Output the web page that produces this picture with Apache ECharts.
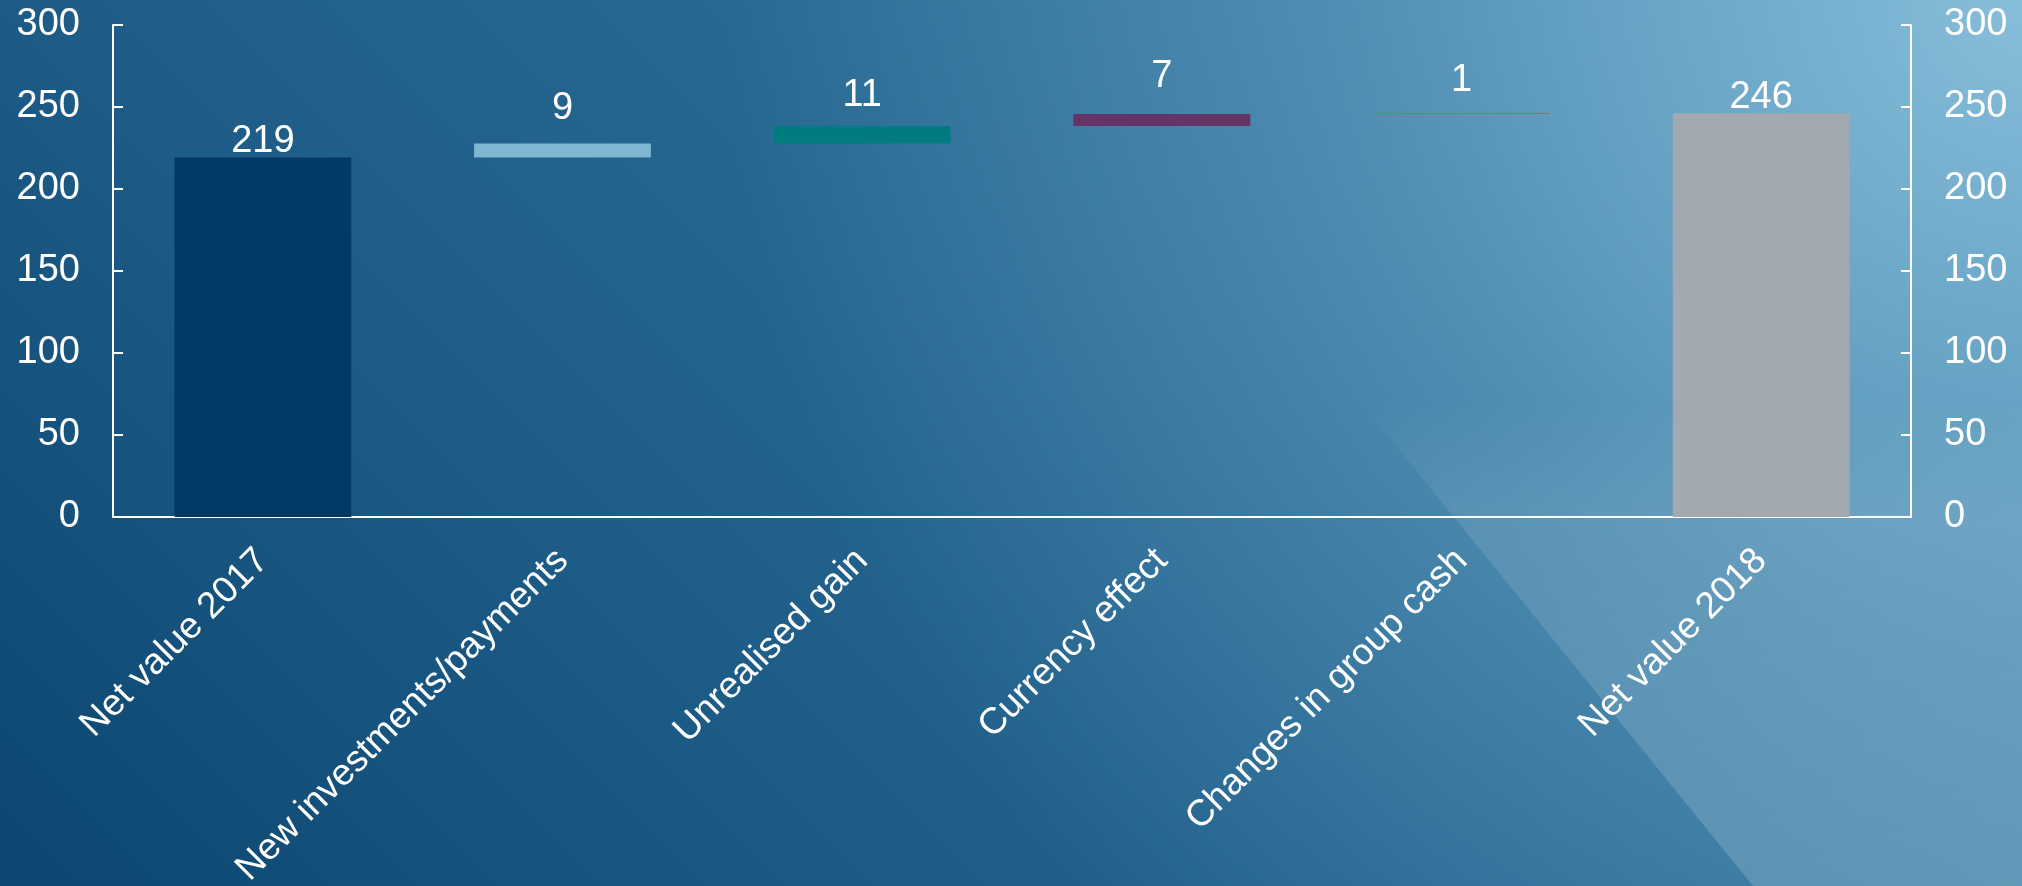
<!DOCTYPE html>
<html>
<head>
<meta charset="utf-8">
<script src="https://cdn.jsdelivr.net/npm/echarts/dist/echarts.min.js"></script>
<style>
    html, body { margin: 0; padding: 0; }
    #main { width: 2022px; height: 886px; }
</style>
</head>
<body>
<div id="main"></div>
<script>
// data
var categories = ['Net value 2017', 'New investments/payments', 'Unrealised gain', 'Currency effect', 'Changes in group cash', 'Net value 2018'];
var amounts = [219.2, 8.6, 10.6, 7.4, 0.6, 246.2];
var isTotal = [true, false, false, false, false, true];
var barColors = ['#023A66', '#7FB6D1', '#007C80', '#663366', '#857770', '#A3A9B0'];
var yTicks = [0, 50, 100, 150, 200, 250, 300];

// label gap above each bar (px)
var labelGaps = [-3, 16, 12, 18, 13, -3];
var fontName = 'Liberation Sans, Arial, sans-serif';

// invisible base for the floating bars
var bases = [];
var running = 0;
for (var i = 0; i < amounts.length; i++) {
    if (isTotal[i]) {
        bases.push(0);
        running = amounts[i];
    } else {
        bases.push(running);
        running = running + amounts[i];
    }
}

var shown = [];
for (var j = 0; j < amounts.length; j++) {
    shown.push({
        value: amounts[j],
        itemStyle: { color: barColors[j] },
        label: { distance: labelGaps[j] }
    });
}

var myChart = echarts.init(document.getElementById('main'));

var bgFill = new echarts.graphic.LinearGradient(0, 886, 1454, -568, [
    { offset: 0, color: '#0C4670' },
    { offset: 0.3, color: '#1C5B86' },
    { offset: 1, color: '#3A80A8' }
], true);

var glow = new echarts.graphic.RadialGradient(2022, 0, 1300, [
    { offset: 0, color: 'rgba(160,210,235,0.75)' },
    { offset: 0.5, color: 'rgba(160,210,235,0.3)' },
    { offset: 1, color: 'rgba(160,210,235,0)' }
], true);

var sheen = new echarts.graphic.LinearGradient(0, 400, 0, 886, [
    { offset: 0, color: 'rgba(255,255,255,0)' },
    { offset: 0.25, color: 'rgba(255,255,255,0.1)' },
    { offset: 1, color: 'rgba(255,255,255,0.17)' }
], true);

function yAxisCfg(pos) {
    return {
        type: 'value',
        position: pos,
        min: yTicks[0],
        max: yTicks[yTicks.length - 1],
        interval: yTicks[1] - yTicks[0],
        splitLine: { show: false },
        axisLine: { show: true, lineStyle: { color: '#ffffff', width: 2 } },
        axisTick: { show: true, inside: true, length: 10, lineStyle: { color: '#ffffff', width: 2 } },
        axisLabel: { color: '#ffffff', fontSize: 38, fontFamily: fontName, margin: 33 }
    };
}

var option = {
    animation: false,
    graphic: [
        { type: 'rect', silent: true, z: -10, shape: { x: 0, y: 0, width: 2022, height: 886 }, style: { fill: bgFill } },
        { type: 'rect', silent: true, z: -10, shape: { x: 0, y: 0, width: 2022, height: 886 }, style: { fill: glow } },
        { type: 'polygon', silent: true, z: -9, shape: { points: [[1035, 0], [2022, 0], [2022, 886], [1753, 886]] }, style: { fill: sheen } }
    ],
    grid: { left: 113, right: 111, top: 25, bottom: 369, containLabel: false, outerBoundsMode: 'none' },
    xAxis: {
        type: 'category',
        data: categories,
        axisLine: { show: true, lineStyle: { color: '#ffffff', width: 2 } },
        axisTick: { show: false },
        axisLabel: { color: '#ffffff', fontSize: 37, fontFamily: fontName, rotate: 45, margin: 38, interval: 0 }
    },
    yAxis: [yAxisCfg('left'), yAxisCfg('right')],
    series: [
        {
            type: 'bar',
            stack: 'wf',
            data: bases,
            barWidth: '59%',
            itemStyle: { color: 'transparent' },
            emphasis: { disabled: true },
            silent: true
        },
        {
            type: 'bar',
            stack: 'wf',
            data: shown,
            barWidth: '59%',
            label: {
                show: true,
                position: 'top',
                color: '#ffffff',
                fontSize: 38,
                fontFamily: fontName,
                formatter: function (p) { return Math.round(p.value); }
            }
        }
    ]
};

myChart.setOption(option);
</script>
</body>
</html>
